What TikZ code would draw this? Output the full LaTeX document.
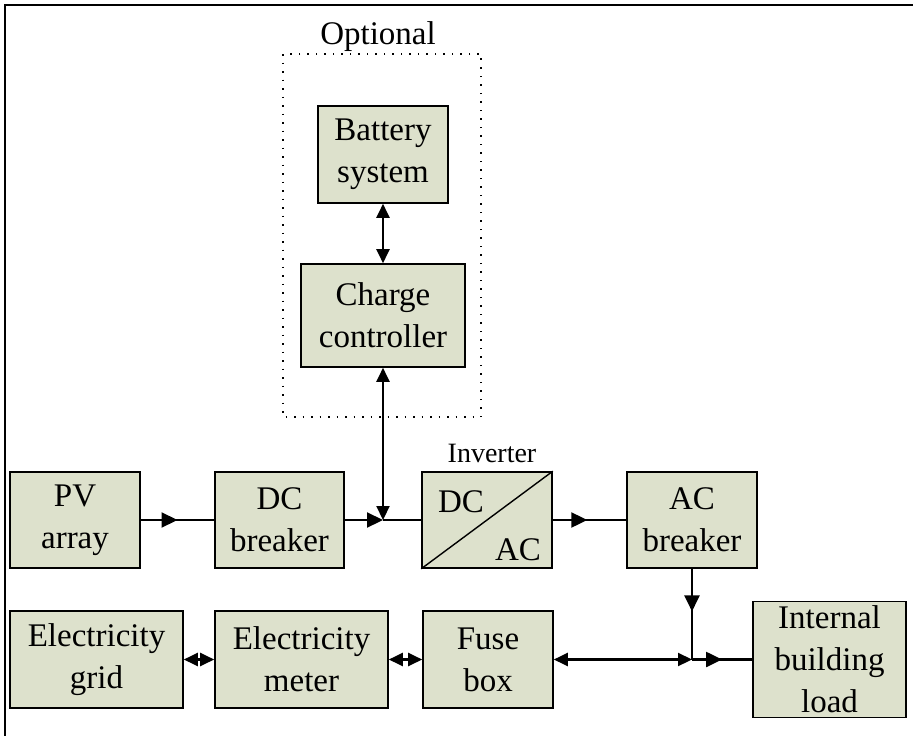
\documentclass[tikz,border=0pt]{standalone}
\usepackage{fontspec}
\setmainfont{Liberation Serif}
\usepackage{tikz}
\usetikzlibrary{arrows.meta, decorations.markings}

\definecolor{boxfill}{RGB}{221,225,204}

\tikzset{
    blockbox/.style={draw, line width=1.6pt, fill=boxfill, inner sep=0pt,
        align=center, font=\fontsize{33}{42}\selectfont},
    wire/.style={line width=2.2pt},
    midtip/.style={decoration={markings,
        mark=at position #1 with {\arrow{Triangle[length=16pt,width=15pt]}}},
        postaction={decorate}},
    bothtips/.style={{Triangle[length=14pt,width=13pt]}-{Triangle[length=14pt,width=13pt]}},
    endtip/.style={-{Triangle[length=16pt,width=15pt]}}
}

\begin{document}
\begin{tikzpicture}[x=1pt, y=-1pt]
    \useasboundingbox (0,0) rectangle (913,736);

    % frame
    \draw[line width=2pt] (5,736) -- (5,5) -- (913,5);

    % optional part
    \draw[line width=1.5pt, dash pattern=on 1.5pt off 7pt] (283,54) rectangle (481,417);
    \node[font=\fontsize{33}{41}\selectfont] (opt) at (378,37) {Optional};

    % blocks
    \node[blockbox, minimum width=130pt, minimum height=97pt] (bat) at (383,154.5) {Battery\\system};
    \node[blockbox, minimum width=164pt, minimum height=103pt] (chg) at (383,315.5) {Charge\\controller};

    \node[blockbox, minimum width=130pt, minimum height=96pt] (pv) at (75,520) {PV\\array};
    \node[blockbox, minimum width=129pt, minimum height=96pt] (dcb) at (279.5,520) {DC\\breaker};
    \node[blockbox, minimum width=130pt, minimum height=96pt] (inv) at (487,520) {};
    \node[blockbox, minimum width=130pt, minimum height=96pt] (acb) at (692,520) {AC\\breaker};

    \node[blockbox, minimum width=173pt, minimum height=97pt] (grid) at (96.5,659.5) {Electricity\\grid};
    \node[blockbox, minimum width=173pt, minimum height=97pt] (meter) at (301.5,659.5) {Electricity\\meter};
    \node[blockbox, minimum width=130pt, minimum height=97pt] (fuse) at (488,659.5) {Fuse\\box};
    \node[blockbox, minimum width=153pt, minimum height=116pt] (load) at (829.5,659.5) {Internal\\building\\load};

    % inverter symbol
    \draw[line width=1.4pt] (inv.south west) -- (inv.north east);
    \node[font=\fontsize{33}{41}\selectfont] (invdc) at (461,502) {DC};
    \node[font=\fontsize{33}{41}\selectfont] (invac) at (518,550) {AC};
    \node[font=\fontsize{28}{34}\selectfont] (invlbl) at (492,453) {Inverter};

    % junctions
    \coordinate (dcjoin) at (383,520);
    \coordinate (acjoin) at (692,659.5);

    % DC side
    \draw[wire, midtip=0.5] (pv.east) -- (dcb.west);
    \draw[wire, endtip] (dcb.east) -- (dcjoin);
    \draw[wire] (dcjoin) -- (inv.west);
    \draw[wire, bothtips] (chg.south) -- (dcjoin);
    \draw[wire, bothtips] (bat.south) -- (chg.north);

    % AC side
    \draw[wire, midtip=0.47] (inv.east) -- (acb.west);
    \draw[wire, midtip=0.47] (acb.south) -- (acjoin);
    \draw[wire, bothtips] (fuse.east) -- (acjoin);
    \draw[wire, midtip=0.5] (acjoin) -- (load.west);
    \draw[wire, bothtips] (grid.east) -- (meter.west);
    \draw[wire, bothtips] (meter.east) -- (fuse.west);
\end{tikzpicture}
\end{document}
